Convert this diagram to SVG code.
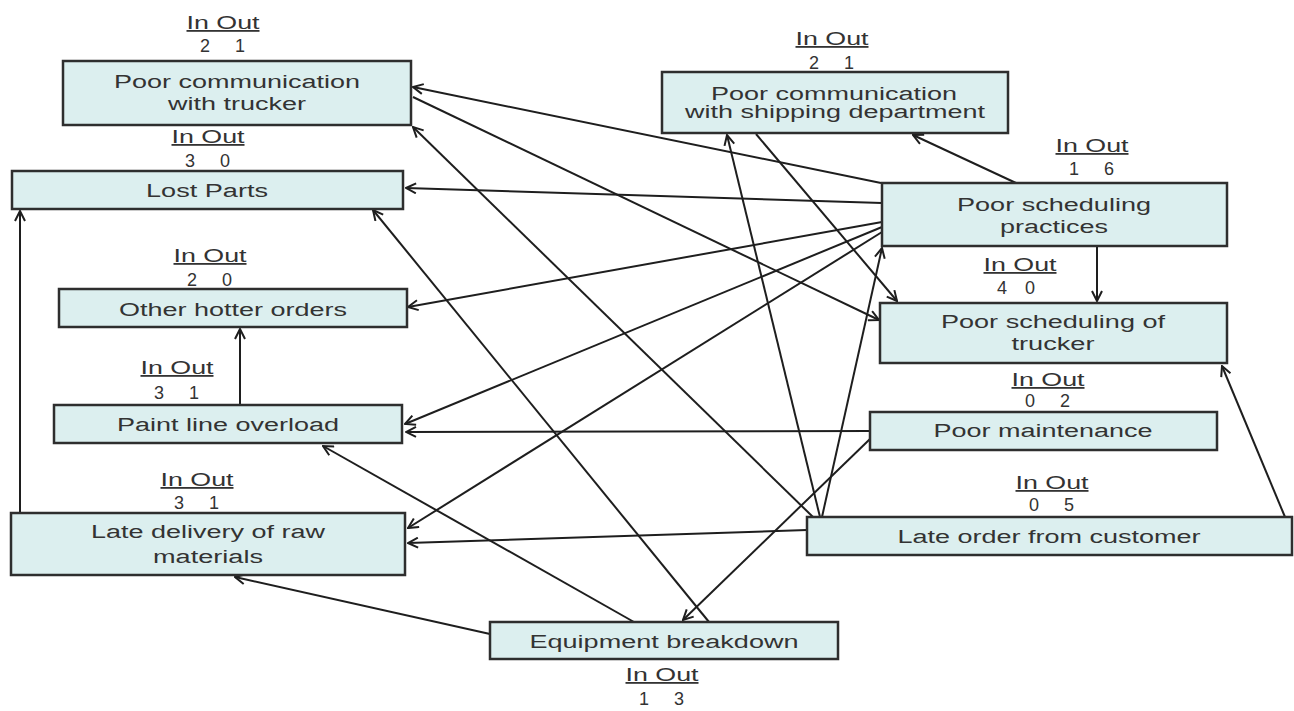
<svg xmlns="http://www.w3.org/2000/svg" width="1294" height="711" viewBox="0 0 1294 711">
<style>
.bg{fill:#ffffff}
.box{fill:#dcefef;stroke:#2e2e2e;stroke-width:2.5}
.t{font-family:"Liberation Sans",Arial,sans-serif;font-size:18px;fill:#333;text-anchor:middle}
.io{text-decoration:underline}
.c line{stroke:#1e1e1e;stroke-width:2;fill:none;marker-end:url(#ah)}
</style>
<defs>
<marker id="ah" viewBox="0 0 12 12" refX="11" refY="6" markerWidth="12" markerHeight="12" markerUnits="userSpaceOnUse" orient="auto">
<path d="M1,1 L11,6 L1,11" fill="none" stroke="#1e1e1e" stroke-width="2"/>
</marker>
</defs>
<rect class="bg" x="0" y="0" width="1294" height="711"/>

<g id="connectors" class="c">
<line x1="1016" y1="183" x2="913" y2="135"/>
<line x1="881" y1="183" x2="413" y2="87"/>
<line x1="882" y1="203" x2="406" y2="188"/>
<line x1="882" y1="222" x2="408" y2="307"/>
<line x1="882" y1="227" x2="405" y2="424"/>
<line x1="882" y1="232" x2="408" y2="528"/>
<line x1="1097" y1="246" x2="1097" y2="301"/>
<line x1="413" y1="97" x2="879" y2="320"/>
<line x1="756" y1="134" x2="897" y2="301"/>
<line x1="813" y1="517" x2="413" y2="127"/>
<line x1="820" y1="517" x2="727" y2="135"/>
<line x1="822" y1="517" x2="882" y2="248"/>
<line x1="807" y1="530" x2="408" y2="543"/>
<line x1="1285" y1="517" x2="1222" y2="366"/>
<line x1="870" y1="431" x2="406" y2="432"/>
<line x1="870" y1="439" x2="683" y2="620"/>
<line x1="709" y1="622" x2="373" y2="210"/>
<line x1="634" y1="622" x2="323" y2="446"/>
<line x1="490" y1="634" x2="235" y2="577"/>
<line x1="20" y1="513" x2="20" y2="211"/>
<line x1="240" y1="405" x2="240" y2="329"/>
</g>

<g id="poor-communication-trucker">
<rect class="box" x="63" y="61" width="348" height="64"/>
<text class="t" x="237" y="88" textLength="246" lengthAdjust="spacingAndGlyphs">Poor communication</text>
<text class="t" x="237" y="110" textLength="138" lengthAdjust="spacingAndGlyphs">with trucker</text>
<text class="t io" x="223" y="29" textLength="73" lengthAdjust="spacingAndGlyphs">In Out</text>
<text class="t" y="52"><tspan x="205">2</tspan><tspan x="240">1</tspan></text>
</g>

<g id="lost-parts">
<rect class="box" x="12" y="171" width="391" height="38"/>
<text class="t" x="207" y="197" textLength="122" lengthAdjust="spacingAndGlyphs">Lost Parts</text>
<text class="t io" x="208" y="143" textLength="73" lengthAdjust="spacingAndGlyphs">In Out</text>
<text class="t" y="167"><tspan x="190">3</tspan><tspan x="225">0</tspan></text>
</g>

<g id="other-hotter-orders">
<rect class="box" x="59" y="289" width="348" height="38"/>
<text class="t" x="233" y="316" textLength="228" lengthAdjust="spacingAndGlyphs">Other hotter orders</text>
<text class="t io" x="210" y="262" textLength="73" lengthAdjust="spacingAndGlyphs">In Out</text>
<text class="t" y="286"><tspan x="192">2</tspan><tspan x="227">0</tspan></text>
</g>

<g id="paint-line-overload">
<rect class="box" x="54" y="405" width="348" height="38"/>
<text class="t" x="228" y="431" textLength="222" lengthAdjust="spacingAndGlyphs">Paint line overload</text>
<text class="t io" x="177" y="374" textLength="73" lengthAdjust="spacingAndGlyphs">In Out</text>
<text class="t" y="399"><tspan x="159">3</tspan><tspan x="194">1</tspan></text>
</g>

<g id="late-delivery">
<rect class="box" x="11" y="513" width="394" height="62"/>
<text class="t" x="208" y="538" textLength="234" lengthAdjust="spacingAndGlyphs">Late delivery of raw</text>
<text class="t" x="208" y="563" textLength="110" lengthAdjust="spacingAndGlyphs">materials</text>
<text class="t io" x="197" y="486" textLength="73" lengthAdjust="spacingAndGlyphs">In Out</text>
<text class="t" y="509"><tspan x="179">3</tspan><tspan x="214">1</tspan></text>
</g>

<g id="poor-communication-shipping">
<rect class="box" x="662" y="72" width="346" height="61"/>
<text class="t" x="834" y="100" textLength="246" lengthAdjust="spacingAndGlyphs">Poor communication</text>
<text class="t" x="835" y="118" textLength="300" lengthAdjust="spacingAndGlyphs">with shipping department</text>
<text class="t io" x="832" y="45" textLength="73" lengthAdjust="spacingAndGlyphs">In Out</text>
<text class="t" y="69"><tspan x="814">2</tspan><tspan x="849">1</tspan></text>
</g>

<g id="poor-scheduling-practices">
<rect class="box" x="882" y="183" width="345" height="63"/>
<text class="t" x="1054" y="211" textLength="194" lengthAdjust="spacingAndGlyphs">Poor scheduling</text>
<text class="t" x="1054" y="233" textLength="108" lengthAdjust="spacingAndGlyphs">practices</text>
<text class="t io" x="1092" y="152" textLength="73" lengthAdjust="spacingAndGlyphs">In Out</text>
<text class="t" y="175"><tspan x="1074">1</tspan><tspan x="1109">6</tspan></text>
</g>

<g id="poor-scheduling-trucker">
<rect class="box" x="880" y="303" width="347" height="60"/>
<text class="t" x="1053" y="328" textLength="224" lengthAdjust="spacingAndGlyphs">Poor scheduling of</text>
<text class="t" x="1053" y="350" textLength="83" lengthAdjust="spacingAndGlyphs">trucker</text>
<text class="t io" x="1020" y="271" textLength="73" lengthAdjust="spacingAndGlyphs">In Out</text>
<text class="t" y="294"><tspan x="1002">4</tspan><tspan x="1030">0</tspan></text>
</g>

<g id="poor-maintenance">
<rect class="box" x="870" y="412" width="347" height="38"/>
<text class="t" x="1043" y="437" textLength="219" lengthAdjust="spacingAndGlyphs">Poor maintenance</text>
<text class="t io" x="1048" y="386" textLength="73" lengthAdjust="spacingAndGlyphs">In Out</text>
<text class="t" y="407"><tspan x="1030">0</tspan><tspan x="1065">2</tspan></text>
</g>

<g id="late-order-from-customer">
<rect class="box" x="807" y="517" width="485" height="38"/>
<text class="t" x="1049" y="543" textLength="303" lengthAdjust="spacingAndGlyphs">Late order from customer</text>
<text class="t io" x="1052" y="489" textLength="73" lengthAdjust="spacingAndGlyphs">In Out</text>
<text class="t" y="511"><tspan x="1034">0</tspan><tspan x="1069">5</tspan></text>
</g>

<g id="equipment-breakdown">
<rect class="box" x="490" y="622" width="348" height="37"/>
<text class="t" x="664" y="648" textLength="269" lengthAdjust="spacingAndGlyphs">Equipment breakdown</text>
<text class="t io" x="662" y="681" textLength="73" lengthAdjust="spacingAndGlyphs">In Out</text>
<text class="t" y="705"><tspan x="644">1</tspan><tspan x="679">3</tspan></text>
</g>
</svg>
